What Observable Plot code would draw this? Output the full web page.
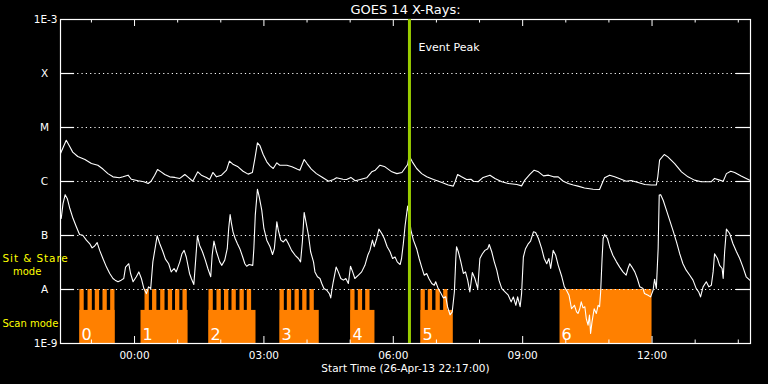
<!DOCTYPE html>
<html><head><meta charset="utf-8">
<script src="https://cdn.jsdelivr.net/npm/d3@7"></script>
<script src="https://cdn.jsdelivr.net/npm/@observablehq/plot@0.6"></script>
<style>
html,body{margin:0;padding:0;background:#000;}
#chart svg{display:block;}
</style></head><body><div id="chart"></div>
<script>
// ---- data (times are minutes after the start time) ----
const startTime = "2013-04-26T22:17:00Z";
const durationMin = 960;
const eventPeakMin = 485.5;
const titleText = "GOES 14 X-Rays:";
const xAxisTitle = "Start Time (26-Apr-13 22:17:00)";

const levelValues = [1e-9, 1e-8, 1e-7, 1e-6, 1e-5, 1e-4, 1e-3];
const levelLabels = ["1E-9", "A", "B", "C", "M", "X", "1E-3"];
const gridLevels = [1e-8, 1e-7, 1e-6, 1e-5, 1e-4];

const majorTicks = ["2013-04-27T00:00Z", "2013-04-27T03:00Z", "2013-04-27T06:00Z", "2013-04-27T09:00Z", "2013-04-27T12:00Z"];
const majorLabels = ["00:00", "03:00", "06:00", "09:00", "12:00"];
const minorTicks = ["2013-04-26T23:00Z", "2013-04-27T01:00Z", "2013-04-27T02:00Z", "2013-04-27T04:00Z", "2013-04-27T05:00Z",
  "2013-04-27T07:00Z", "2013-04-27T08:00Z", "2013-04-27T10:00Z", "2013-04-27T11:00Z", "2013-04-27T13:00Z", "2013-04-27T14:00Z"];

// GOES long channel (1-8 A), [minutes, flux in 1e-6 W/m2]
const longChannel = [[0,3.3],[8,5.8],[13,4.4],[17,3.5],[24,2.9],[34,2.55],[43,2.15],[52,2.0],[59,1.7],[66,1.4],[73,1.22],[82,1.17],[87,1.22],[94,1.31],[98.5,1.1],[108,1.03],[116,0.99],[122,0.92],[126,1.01],[131,1.31],[135,1.67],[140,1.51],[145,1.35],[152,1.22],[159,1.19],[166,1.14],[173,1.35],[177,1.22],[184,1.01],[191,1.51],[196,1.31],[203,1.19],[207.5,1.09],[212,1.47],[217,1.22],[224,1.31],[231,1.62],[235,2.38],[240.5,2.06],[247,1.87],[254,1.55],[261,1.37],[267,1.47],[270.5,2.67],[274,5.2],[277.5,4.6],[282,3.16],[287,2.31],[291.5,1.95],[296,1.74],[301,2.22],[305,2.0],[315,2.0],[322,1.87],[329,1.7],[333,1.62],[339,2.55],[343,2.15],[349,1.7],[356,1.4],[363,1.22],[373,1.01],[380,1.09],[384,1.17],[393,1.1],[398,1.09],[404,1.19],[410,1.03],[417,1.09],[426,1.17],[433,1.51],[438,1.62],[444.5,2.0],[451.5,1.87],[461,1.51],[468,1.4],[475,1.47],[479,1.74],[483,2.06],[485,3.0],[489.5,2.31],[495.5,1.74],[502.5,1.4],[509.5,1.22],[519,1.09],[526,1.01],[532.5,0.94],[539.5,0.86],[546.5,0.82],[549,0.99],[552.5,1.35],[558,1.22],[565,1.09],[571,1.1],[574.5,1.01],[581,0.99],[588,1.19],[597.5,1.31],[604.5,1.14],[614,0.99],[623,0.92],[635,0.88],[641.5,0.83],[646,1.06],[653,1.35],[659,1.62],[665,1.51],[672,1.27],[679,1.31],[686,1.22],[692.5,1.22],[699.5,1.01],[706.5,0.92],[713.5,0.86],[720,0.82],[729,0.76],[741,0.72],[750,0.71],[753.5,0.92],[757,1.17],[764,1.31],[771,1.22],[780,1.1],[787,1.01],[794,1.04],[803.5,0.96],[813,0.88],[822,0.86],[829,0.86],[831,1.22],[833.5,2.48],[840,3.16],[845,2.86],[854.5,2.15],[864,1.51],[873,1.22],[882,1.06],[891.5,0.99],[905.5,0.99],[910,1.14],[917,1.06],[922,1.01],[926.5,1.4],[932.5,1.55],[938,1.47],[947,1.27],[959,1.06],[960,1.04]];

// GOES short channel (0.5-4 A), [minutes, flux in 1e-7 W/m2]
const shortChannel = [[1,2.06],[3.5,3.9],[6.5,5.7],[9.5,4.8],[13,3.16],[17.5,2.06],[22,1.45],[26.5,1.04],[31,1.01],[36,0.82],[40.5,0.71],[44,0.59],[47.5,0.64],[51,0.74],[54.5,0.53],[59,0.375],[64,0.26],[68.5,0.198],[73,0.16],[76,0.149],[80,0.139],[84.5,0.149],[88,0.16],[90.5,0.26],[95,0.30],[97.5,0.198],[101,0.139],[105.5,0.172],[109,0.212],[112.5,0.16],[116,0.104],[119.5,0.084],[122.5,0.112],[125.5,0.104],[128.5,0.325],[132,0.62],[134.5,0.99],[138,0.71],[142.5,0.5],[146,0.365],[150.5,0.30],[154,0.212],[158,0.245],[161,0.212],[166,0.325],[169,0.46],[172,0.53],[175,0.40],[179.5,0.198],[182,0.16],[185.5,0.124],[187.5,0.28],[190.5,0.99],[193.5,0.66],[197.5,0.5],[201.5,0.35],[205,0.245],[209,0.172],[211,0.43],[213.5,0.79],[217,0.5],[221.5,0.325],[224.5,0.28],[228.5,0.35],[232,0.57],[234,1.35],[236,2.45],[237.5,1.79],[240,1.17],[243,0.88],[246,0.71],[249.5,0.57],[253.5,0.40],[256.5,0.30],[259,0.27],[262.5,0.29],[267.5,0.28],[269,0.57],[271,2.38],[274,7.2],[276.5,5.2],[280,2.95],[283,1.35],[287,0.82],[291.5,0.62],[295,0.445],[297.5,0.57],[301,1.79],[303,1.26],[306.5,0.82],[310,0.76],[313.5,0.86],[317,0.71],[321.5,0.53],[326.5,0.43],[331,0.375],[334,0.325],[336.5,0.76],[339,2.67],[341.5,1.79],[345,1.01],[348,0.5],[352,0.325],[354,0.212],[357.5,0.172],[361,0.16],[363.5,0.129],[366.5,0.104],[370.5,0.097],[374,0.084],[376,0.07],[377.5,0.097],[379.5,0.139],[383.5,0.26],[386.5,0.212],[390,0.16],[393.5,0.149],[397,0.16],[400.5,0.129],[403.5,0.27],[406.5,0.212],[409.5,0.16],[414.5,0.184],[419,0.212],[423.5,0.28],[427.5,0.43],[430.5,0.53],[434,0.82],[436.5,0.62],[440,0.88],[443,1.31],[447,1.09],[450.5,0.88],[454.5,0.62],[458.5,0.5],[462,0.375],[465.5,0.40],[468.5,0.325],[472.5,0.29],[474.5,0.375],[477,0.71],[479.5,1.55],[483,3.5],[485,2.38],[487.5,1.26],[491,0.82],[495.5,0.57],[499,0.375],[502.5,0.26],[506,0.184],[509.5,0.198],[512.5,0.16],[516.5,0.129],[520,0.12],[522,0.139],[525.5,0.104],[529.5,0.084],[532.5,0.07],[536,0.073],[538.5,0.048],[542,0.034],[545,0.0385],[548,0.09],[550,0.375],[551,0.62],[553.5,0.5],[557,0.325],[560.5,0.198],[563.5,0.212],[566.5,0.149],[569.5,0.09],[573,0.206],[576.5,0.16],[580.5,0.104],[583.5,0.375],[587,0.46],[590.5,0.53],[594.5,0.57],[596.5,0.68],[600,0.5],[603.5,0.325],[607,0.228],[610,0.149],[614,0.104],[618.5,0.09],[623,0.0785],[627,0.059],[630,0.073],[633.5,0.051],[636,0.073],[639.5,0.048],[641.5,0.084],[644,0.40],[647,0.57],[651,0.71],[654,0.79],[658,1.17],[661,1.14],[665,0.88],[669.5,0.57],[673,0.375],[676.5,0.30],[679.5,0.375],[682,0.245],[685.5,0.53],[689,0.43],[692.5,0.28],[697.5,0.172],[701,0.112],[704,0.097],[707.5,0.0785],[711,0.044],[715,0.051],[718,0.0385],[720,0.036],[722.5,0.044],[724.5,0.059],[727,0.0457],[729.5,0.048],[731.5,0.029],[734,0.0219],[736,0.0335],[737.5,0.0153],[739.5,0.0252],[742.5,0.044],[745.5,0.036],[748,0.051],[750,0.048],[751.5,0.09],[753.5,0.375],[755,0.88],[757,1.04],[761,0.88],[764,0.62],[768.5,0.43],[773.5,0.325],[778,0.26],[782.5,0.212],[787,0.184],[789.5,0.245],[792,0.30],[795,0.26],[799,0.212],[802.5,0.16],[806,0.112],[810.5,0.104],[812.5,0.084],[817.5,0.0785],[821,0.073],[824.5,0.097],[826.5,0.155],[829,0.104],[831.5,0.57],[833,5.6],[835,5.7],[838.5,4.5],[843,2.95],[847.5,1.92],[852,1.26],[857,0.76],[861.5,0.46],[866,0.30],[870.5,0.228],[875.5,0.184],[880,0.149],[884.5,0.104],[888,0.09],[890.5,0.073],[894,0.112],[898.5,0.139],[902,0.112],[905.5,0.12],[908,0.212],[910,0.46],[914,0.375],[917,0.28],[920.5,0.245],[922,0.16],[924,0.5],[926.5,1.31],[931,1.09],[935.5,0.71],[940.5,0.5],[945,0.375],[949.5,0.26],[954,0.172],[959,0.149]];

// IRIS observing blocks
const blockLabels = ["0", "1", "2", "3", "4", "5", "6"];
const blockStart = [27, 112, 206.5, 305.5, 404, 501.5, 695];
const blockEnd = [76, 177.5, 272, 360, 437.5, 546.5, 823];
const blockSitStare = [false, false, false, false, false, false, true];
const rasterStart = [27, 38.3, 48.4, 59.1, 69.8, 117.6, 128.1, 139.4, 150, 160, 170.4, 206.6, 217.7, 228.2, 238.6, 249.7, 259.9, 305.4, 315.6, 326.3, 337, 347.1, 403.8, 414.3, 424.6, 501.6, 511.7, 522.4, 533.1];
const rasterMinutes = 6;
const scanLevel = 4.1e-9;   // top of the "Scan mode" band
const stareLevel = 1e-8;    // top of the "Sit & Stare" band

// ---- drawing ----
const t0 = Date.parse(startTime);
const T = m => new Date(t0 + m * 60000);
const longUnit = 1e-6, shortUnit = 1e-7;
const orange = "#ff8000";
const font = "DejaVu Sans";

const blocks = blockLabels.map((l, i) => ({label: l, start: blockStart[i], end: blockEnd[i], stare: blockSitStare[i]}));

const chart = Plot.plot({
  width: 768, height: 384,
  marginLeft: 60, marginRight: 18, marginTop: 19, marginBottom: 41,
  style: {background: "#000", color: "#fff", fontFamily: font, fontSize: "10.5px"},
  x: {type: "utc", domain: [T(0), T(durationMin)], axis: null},
  y: {type: "log", domain: [levelValues[0], levelValues[levelValues.length - 1]], axis: null},
  marks: [
    Plot.rect(blocks, {x1: d => T(d.start), x2: d => T(d.end), y1: levelValues[0], y2: d => d.stare ? stareLevel : scanLevel, fill: orange}),
    Plot.rect(rasterStart, {x1: d => T(d), x2: d => T(d + rasterMinutes), y1: levelValues[0], y2: stareLevel, fill: orange}),
    Plot.ruleY(gridLevels, {stroke: "#fff", strokeDasharray: "1.2,3.1", strokeWidth: 1}),
    Plot.line(longChannel, {x: d => T(d[0]), y: d => d[1] * longUnit, stroke: "#fff", strokeWidth: 1.1}),
    Plot.line(shortChannel, {x: d => T(d[0]), y: d => d[1] * shortUnit, stroke: "#fff", strokeWidth: 1.1}),
    Plot.frame({stroke: "#fff", strokeWidth: 1.2}),
    // inward ticks
    Plot.tickY(gridLevels, {y: d => d, insetRight: 676, stroke: "#fff", strokeWidth: 1.2}),
    Plot.tickY(gridLevels, {y: d => d, insetLeft: 676, stroke: "#fff", strokeWidth: 1.2}),
    Plot.tickX(majorTicks, {x: d => new Date(d), insetTop: 317, stroke: "#fff"}),
    Plot.tickX(minorTicks, {x: d => new Date(d), insetTop: 320.5, stroke: "#fff"}),
    Plot.tickX(majorTicks, {x: d => new Date(d), insetBottom: 317, stroke: "#fff"}),
    Plot.tickX(minorTicks, {x: d => new Date(d), insetBottom: 320.5, stroke: "#fff"}),
    // event peak
    Plot.ruleX([T(eventPeakMin)], {stroke: "#99cc00", strokeWidth: 3}),
    Plot.text(["Event Peak"], {x: T(eventPeakMin), frameAnchor: "top", dx: 9, dy: 24, textAnchor: "start", fill: "#fff", fontSize: 11}),
    // y labels
    Plot.text(levelValues, {y: d => d, text: (d, i) => levelLabels[i], frameAnchor: "left",
      textAnchor: "end", fill: "#fff", filter: (d, i) => levelLabels[i].length > 1, dx: -3}),
    Plot.text(levelValues, {y: d => d, text: (d, i) => levelLabels[i], frameAnchor: "left",
      textAnchor: "middle", fill: "#fff", filter: (d, i) => levelLabels[i].length === 1, dx: -16}),
    // x labels
    Plot.text(majorTicks, {x: d => new Date(d), text: (d, i) => majorLabels[i], frameAnchor: "bottom", dy: 12, lineAnchor: "middle", fill: "#fff"}),
    Plot.text([xAxisTitle], {frameAnchor: "bottom", dy: 25, lineAnchor: "middle", fill: "#fff"}),
    Plot.text([titleText], {frameAnchor: "top", dy: -9.5, lineAnchor: "middle", fill: "#fff", fontSize: 13}),
    // block numbers
    Plot.text(blocks, {x: d => T(d.start), text: "label", frameAnchor: "bottom", dx: 1.5, dy: -9, textAnchor: "start", lineAnchor: "middle", fill: "#fff", fontSize: 16}),
    // mode labels
    Plot.text(["Sit & Stare"], {frameAnchor: "top-left", dx: -58, dy: 239, textAnchor: "start", lineAnchor: "middle", fill: "#ffff00", fontSize: 10.5}),
    Plot.text(["mode"], {frameAnchor: "top-left", dx: -47.5, dy: 252, textAnchor: "start", lineAnchor: "middle", fill: "#ffff00", fontSize: 10}),
    Plot.text(["Scan mode"], {frameAnchor: "top-left", dx: -58, dy: 304, textAnchor: "start", lineAnchor: "middle", fill: "#ffff00", fontSize: 10})
  ]
});
// widen the "Sit & Stare" label a little, as in the original vector font
d3.select(chart).selectAll("text").filter(function() { return this.textContent === "Sit & Stare"; }).style("letter-spacing", "0.9px");
document.getElementById("chart").appendChild(chart);
</script></body></html>
